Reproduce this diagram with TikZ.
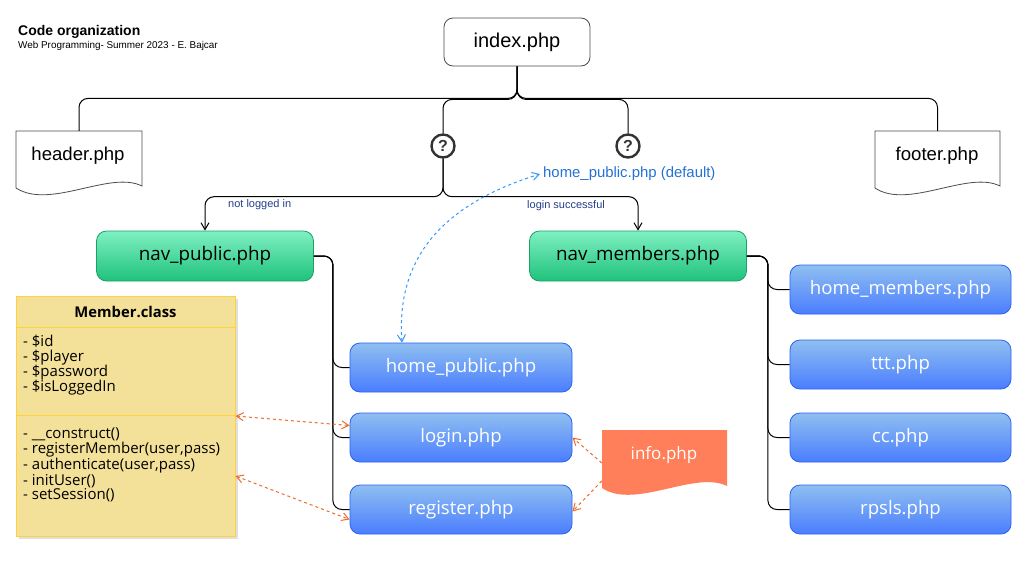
\documentclass[tikz,border=0pt]{standalone}
\usepackage{fontspec}
\setmainfont{Liberation Sans}
\newfontfamily\osans{Open Sans}
\usetikzlibrary{arrows.meta,shadows,calc}
\definecolor{bluetop}{HTML}{8FBFF0}
\definecolor{bluebot}{HTML}{4A7DFF}
\definecolor{blueedge}{HTML}{2A62F5}
\definecolor{greentop}{HTML}{80F0C2}
\definecolor{greenbot}{HTML}{1EC27C}
\definecolor{greenedge}{HTML}{1BA068}
\definecolor{memberfill}{HTML}{F4E199}
\definecolor{memberedge}{HTML}{FFD23C}
\definecolor{infofill}{HTML}{FF7F5A}
\definecolor{deftext}{HTML}{2472D6}
\definecolor{labeltext}{HTML}{243F8E}
\definecolor{bluedash}{HTML}{3399FF}
\definecolor{orangedash}{HTML}{F06A2A}
\definecolor{qgray}{HTML}{333333}
\tikzset{
  plainbox/.style={draw=black!70, line width=0.8pt, rounded corners=9pt, fill=white, minimum width=146pt, minimum height=48pt, font=\fontsize{20}{20}\selectfont},
  greenbox/.style={draw=greenedge, line width=0.8pt, rounded corners=10pt, top color=greentop, bottom color=greenbot, minimum width=217pt, minimum height=50pt, font=\osans\fontsize{18.8}{18.8}\selectfont},
  bluebox/.style={draw=blueedge, line width=0.8pt, rounded corners=10pt, top color=bluetop, bottom color=bluebot, minimum width=222pt, minimum height=49pt, text=white, font=\osans\fontsize{18.6}{18.6}\selectfont},
  docnode/.style={minimum width=126pt, minimum height=57pt, inner sep=0pt},
  doctext/.style={font=\fontsize{18.6}{18.6}\selectfont},
  qmark/.style={circle, draw=qgray, line width=2.4pt, minimum size=23pt, inner sep=0pt, text=qgray, font=\bfseries\fontsize{16}{16}\selectfont},
  tree/.style={line width=1pt, black, rounded corners=9pt},
  treearrow/.style={tree, -{Straight Barb[angle=60:8pt]}},
  bluedashed/.style={bluedash, dashed, line width=1pt, {Straight Barb[angle=60:8pt]}-{Straight Barb[angle=60:8pt]}},
  orangedashed/.style={orangedash, dashed, line width=1pt},
  otip/.style={-{Straight Barb[angle=60:8pt]}},
  otips/.style={{Straight Barb[angle=60:8pt]}-{Straight Barb[angle=60:8pt]}},
  smalllabel/.style={text=labeltext, font=\fontsize{11}{11}\selectfont, inner sep=1pt}
}
\begin{document}
\begin{tikzpicture}[x=1pt,y=-1pt]
\useasboundingbox (0,0) rectangle (1032,560);
\fill[white] (0,0) rectangle (1032,560);

% title
\node[anchor=west, inner sep=0pt, font=\bfseries\fontsize{14}{14}\selectfont] (title) at (18,32) {Code organization};
\node[anchor=west, inner sep=0pt, font=\fontsize{9.9}{9.9}\selectfont] (subtitle) at (18,46) {Web Programming- Summer 2023 - E. Bajcar};

% top nodes
\node[plainbox] (index) at (517,42) {index.php};

\node[docnode] (header) at (79,159.5) {};
\draw[black!70, line width=0.8pt] (16,131) -- (142,131) -- (142,186) .. controls (110,170) and (50,210) .. (16,188) -- cycle;
\node[doctext] (headertext) at (78,156) {header.php};

\node[docnode] (footer) at (937.5,159.5) {};
\draw[black!70, line width=0.8pt] (875,131) -- (1000,131) -- (1000,186) .. controls (968,170) and (908,210) .. (875,188) -- cycle;
\node[doctext] (footertext) at (937,156) {footer.php};

\node[qmark] (q1) at (443,146) {?};
\node[qmark] (q2) at (628,146) {?};

\node[anchor=west, inner sep=0pt, text=deftext, font=\fontsize{14.9}{14.9}\selectfont] (default) at (543,174) {home\_public.php (default)};

% nav
\node[greenbox] (navp) at (205,256) {nav\_public.php};
\node[greenbox] (navm) at (638,256) {nav\_members.php};

% public pages
\node[bluebox] (hp) at (461,367.5) {home\_public.php};
\node[bluebox] (login) at (461,437.5) {login.php};
\node[bluebox] (register) at (461,509.5) {register.php};

% member pages
\node[bluebox, minimum width=221pt] (hm) at (900.5,289.5) {home\_members.php};
\node[bluebox, minimum width=221pt] (ttt) at (900.5,364.5) {ttt.php};
\node[bluebox, minimum width=221pt] (cc) at (900.5,437.5) {cc.php};
\node[bluebox, minimum width=221pt] (rpsls) at (900.5,509.5) {rpsls.php};

% Member class
\node[draw=memberedge, line width=1pt, fill=memberfill, minimum width=219pt, minimum height=240pt, inner sep=0pt,
      drop shadow={shadow xshift=3pt, shadow yshift=-3pt, opacity=0.25}] (member) at (125.5,416) {};
\draw[memberedge, line width=1pt] (16,327) -- (235,327);
\draw[memberedge, line width=1pt] (16,415) -- (235,415);
\node[font=\osans\bfseries\fontsize{14.8}{14.8}\selectfont, inner sep=0pt] (mtitle) at (125.5,312) {Member.class};
\node[anchor=north west, align=left, inner sep=0pt, font=\osans\fontsize{15}{15}\selectfont] (mattr) at (23,335)
  {- \$id\\- \$player\\- \$password\\- \$isLoggedIn};
\node[anchor=north west, align=left, inner sep=0pt, font=\osans\fontsize{15}{14.6}\selectfont] (mmeth) at (23,428)
  {- \_\_construct()\\- registerMember(user,pass)\\- authenticate(user,pass)\\- initUser()\\- setSession()};

% info.php
\node[minimum width=125pt, minimum height=58pt, inner sep=0pt] (info) at (664.5,459) {};
\fill[infofill] (602,430) -- (727,430) -- (727,486) .. controls (695,470) and (635,510) .. (602,488) -- cycle;
\node[text=white, font=\osans\fontsize{17}{17}\selectfont] (infotext) at (664,455) {info.php};

% tree connectors
\draw[tree] (index.south) -- ++(0,32) -| (header.north);
\draw[tree] (index.south) -- ++(0,32) -| (footer.north);
\draw[tree] (index.south) -- ++(0,33) -| (q1.north);
\draw[tree] (index.south) -- ++(0,33) -| (q2.north);

\draw[treearrow] (q1.south) -- ++(0,38) -| (navp.north);
\draw[treearrow] (q1.south) -- ++(0,38) -| (navm.north);
\node[smalllabel, anchor=west] (lbl1) at (227,205) {not logged in};
\node[smalllabel, anchor=west] (lbl2) at (526,206) {login successful};

\draw[tree] (navp.east) -- ++(19,0) |- (hp.west);
\draw[tree] (navp.east) -- ++(19,0) |- (login.west);
\draw[tree] (navp.east) -- ++(19,0) |- (register.west);

\draw[tree] (navm.east) -- ++(21,0) |- (hm.west);
\draw[tree] (navm.east) -- ++(21,0) |- (ttt.west);
\draw[tree] (navm.east) -- ++(21,0) |- (cc.west);
\draw[tree] (navm.east) -- ++(21,0) |- (rpsls.west);

% dashed relations
\draw[bluedashed] ([xshift=-59pt]hp.north) .. controls (396,260) and (440,205) .. ([xshift=-3pt]default.west);

\draw[orangedashed, otips] (member.east) -- ([yshift=12pt]login.west);
\draw[orangedashed, otips] ([yshift=-60pt]member.east) -- ([yshift=-10pt]register.west);
\draw[orangedashed, otip] ([yshift=-4pt]info.west) -- (login.east);
\draw[orangedashed, otip] ([yshift=-22pt]info.west) -- ([yshift=-2pt]register.east);
\end{tikzpicture}
\end{document}
